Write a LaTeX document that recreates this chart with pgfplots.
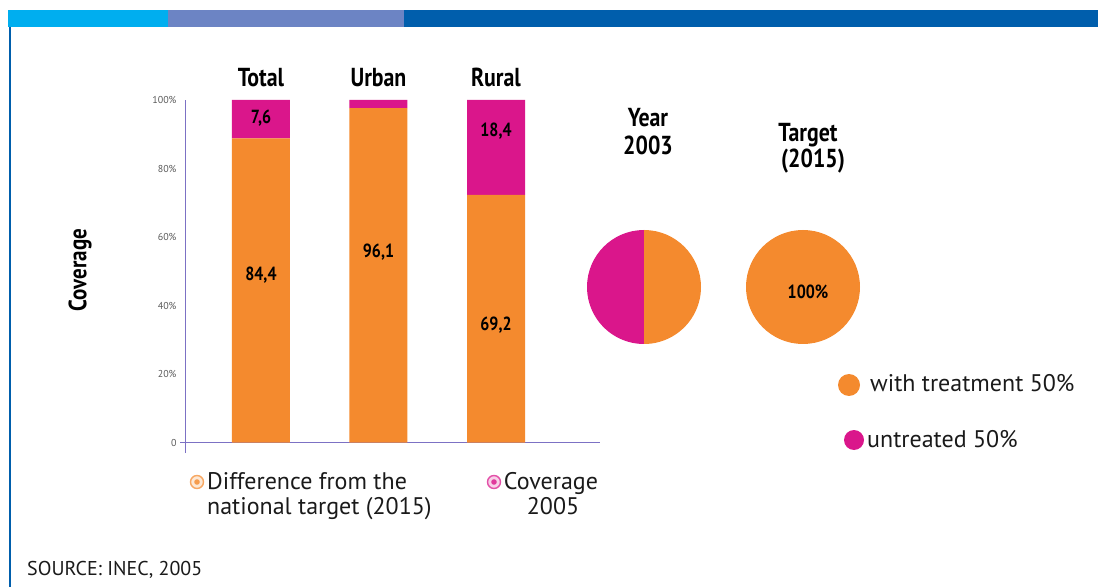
\documentclass[border=0pt]{standalone}
\usepackage{pgfplots}
\pgfplotsset{compat=1.18}
\usepackage{fontspec}
\setmainfont{PT Sans}
\newfontfamily\condb{PT Sans}[FakeStretch=0.84]
\definecolor{lblue}{HTML}{00AEEF}
\definecolor{lav}{HTML}{6C84C4}
\definecolor{dblue}{HTML}{005EAC}
\definecolor{orng}{HTML}{F48A2E}
\definecolor{mag}{HTML}{DA168B}
\definecolor{axcol}{HTML}{7C71C4}
\definecolor{txt}{HTML}{1A1A1A}
\begin{document}
\begin{tikzpicture}[x=1pt,y=1pt]
\useasboundingbox (0,0) rectangle (1098,587);
% top band
\fill[lblue] (8,560) rectangle (168,577);
\fill[lav] (168,560) rectangle (404,577);
\fill[dblue] (404,560) rectangle (1098,577);
\fill[dblue] (9,0) rectangle (11,560);
\begin{axis}[
  at={(180pt,134pt)}, anchor=south west,
  scale only axis, width=420pt, height=353pt,
  xmin=-0.689, xmax=2.885, ymin=-3, ymax=100,
  ybar stacked, bar width=58pt,
  axis x line=none, axis y line*=left,
  axis line style={draw=none},
  major tick length=0pt,
  ytick={0,20,40,60,80,100},
  yticklabels={0,20\%,40\%,60\%,80\%,100\%},
  yticklabel style={font=\fontsize{10}{11}\selectfont, text=black!65},
  /pgf/number format/assume math mode=true,
  clip=false,
]
\addplot[fill=orng, draw=none] coordinates {(0,88.8) (1,97.6) (2,72.3)};
\addplot[fill=mag, draw=none] coordinates {(0,11.2) (1,2.4) (2,27.7)};
\draw[axcol, line width=1pt] (axis cs:-0.638,-3) -- (axis cs:-0.638,100);
\draw[axcol, line width=1pt] (axis cs:-0.689,0) -- (axis cs:2.885,0);
\node[font=\condb\bfseries\fontsize{26}{28}\selectfont, anchor=base] at (axis cs:0,103.8) {Total};
\node[font=\condb\bfseries\fontsize{26}{28}\selectfont, anchor=base] at (axis cs:1,103.8) {Urban};
\node[font=\condb\bfseries\fontsize{26}{28}\selectfont, anchor=base] at (axis cs:2,103.8) {Rural};
\coordinate (a1) at (axis cs:0,48.9);
\coordinate (a2) at (axis cs:0,94.7);
\coordinate (a3) at (axis cs:1,55.6);
\coordinate (a4) at (axis cs:2,34.3);
\coordinate (a5) at (axis cs:2,91);
\end{axis}
\node[font=\condb\bfseries\fontsize{19}{20}\selectfont] at (a1) {84,4};
\node[font=\condb\bfseries\fontsize{19}{20}\selectfont] at (a2) {7,6};
\node[font=\condb\bfseries\fontsize{19}{20}\selectfont] at (a3) {96,1};
\node[font=\condb\bfseries\fontsize{19}{20}\selectfont] at (a4) {69,2};
\node[font=\condb\bfseries\fontsize{19}{20}\selectfont] at (a5) {18,4};
\node[rotate=90, font=\condb\bfseries\fontsize{25}{28}\selectfont] at (80,317) {Coverage};
% bar legend
\draw[orng!75, line width=1.4pt, fill=orng!20] (197,105) circle (6.5);
\fill[orng!85] (197,105) circle (2.8);
\node[anchor=base west, font=\fontsize{24}{28}\selectfont, text=txt, inner sep=0] at (207,98) {Difference from the};
\node[anchor=base west, font=\fontsize{24}{28}\selectfont, text=txt, inner sep=0] at (207,73) {national target (2015)};
\draw[mag!75, line width=1.4pt, fill=mag!20] (494,105) circle (6.5);
\fill[mag!85] (494,105) circle (2.8);
\node[anchor=base, font=\fontsize{24}{28}\selectfont, text=txt, inner sep=0] at (551,98) {Coverage};
\node[anchor=base, font=\fontsize{24}{28}\selectfont, text=txt, inner sep=0] at (553,73) {2005};
% pies
\def\pieA{50}
\fill[mag] (644,300) -- ++(90:57) arc[start angle=90, end angle={90+3.6*\pieA}, radius=57] -- cycle;
\fill[orng] (644,300) -- ++(90:57) arc[start angle=90, end angle={90-3.6*(100-\pieA)}, radius=57] -- cycle;
\fill[orng] (803,300) circle (57);
\node[font=\condb\bfseries\fontsize{26}{28}\selectfont, anchor=base] at (648,460) {Year};
\node[font=\condb\bfseries\fontsize{26}{28}\selectfont, anchor=base] at (648,432) {2003};
\node[font=\condb\bfseries\fontsize{26}{28}\selectfont, anchor=base] at (808,445) {Target};
\node[font=\condb\bfseries\fontsize{26}{28}\selectfont, anchor=base] at (813,419) {(2015)};
\node[font=\condb\bfseries\fontsize{19}{20}\selectfont] at (808,295) {100\%};
% pie legend
\fill[orng] (849,202) circle (11);
\node[anchor=base west, font=\fontsize{24}{28}\selectfont, text=txt, inner sep=0] at (870,195) {with treatment 50\%};
\fill[mag] (854,147) circle (10);
\node[anchor=base west, font=\fontsize{24}{28}\selectfont, text=txt, inner sep=0] at (867,140) {untreated 50\%};
\node[anchor=base west, font=\fontsize{20}{22}\selectfont, text=txt, inner sep=0] at (27,12) {SOURCE: INEC, 2005};
\end{tikzpicture}
\end{document}
